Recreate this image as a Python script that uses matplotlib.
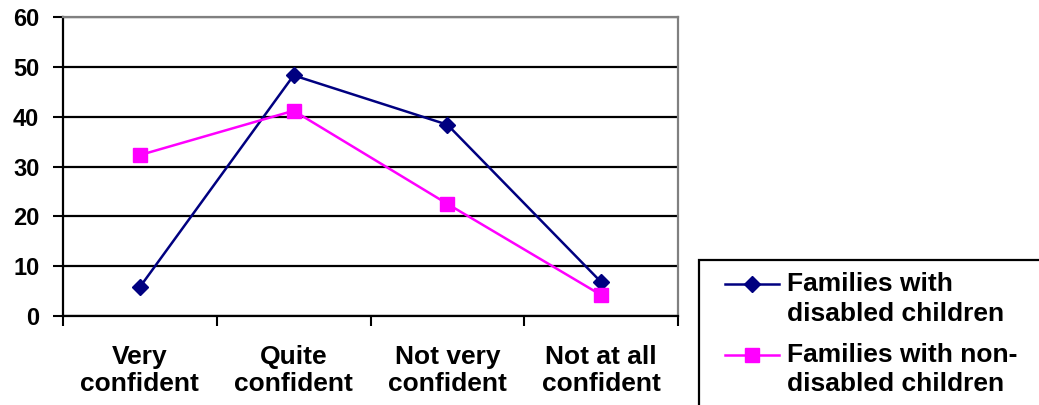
#!/usr/bin/env python3

import matplotlib
matplotlib.use('Agg')
import matplotlib.pyplot as plt
from matplotlib.patches import Rectangle

# Chart data
categories = ['Very\nconfident', 'Quite\nconfident', 'Not very\nconfident', 'Not at all\nconfident']
disabled = [5.8, 48.3, 38.4, 6.8]
non_disabled = [32.3, 41.2, 22.5, 4.2]
series_labels = ['Families with\ndisabled children', 'Families with non-\ndisabled children']
y_ticks = [0, 10, 20, 30, 40, 50, 60]


def plot_chart():
    plt.rcParams['font.family'] = ['Liberation Sans', 'DejaVu Sans']
    plt.rcParams['font.weight'] = 'bold'

    fig = plt.figure(figsize=(10.39, 4.05), dpi=100)
    ax = fig.add_axes([0.0606, 0.2198, 0.592, 0.738])

    x = range(len(categories))
    ax.plot(x, disabled, color='#000080', marker='D', markersize=8, linewidth=1.8,
            label=series_labels[0], clip_on=False, zorder=3)
    ax.plot(x, non_disabled, color='#FF00FF', marker='s', markersize=10, linewidth=1.8,
            label=series_labels[1], clip_on=False, zorder=3)

    ax.set_xlim(-0.5, len(categories) - 0.5)
    ax.set_ylim(0, 60)

    # Horizontal gridlines
    ax.set_yticks(y_ticks)
    ax.yaxis.grid(True, color='black', linewidth=1.6)
    ax.set_axisbelow(True)
    ax.tick_params(axis='y', length=7, width=1.5, labelsize=17, pad=10)

    # Category labels centred, ticks on boundaries
    ax.set_xticks(list(x))
    ax.set_xticklabels(categories, fontsize=19, linespacing=1.15)
    ax.tick_params(axis='x', which='major', length=0, pad=21)
    ax.set_xticks([i - 0.5 for i in range(len(categories) + 1)], minor=True)
    ax.tick_params(axis='x', which='minor', length=7, width=1.5)

    for side in ['top', 'right']:
        ax.spines[side].set_color('#808080')
        ax.spines[side].set_linewidth(1.6)
    for side in ['left', 'bottom']:
        ax.spines[side].set_color('black')
        ax.spines[side].set_linewidth(1.6)

    # Legend box runs off the right and bottom edges of the picture
    left, top = 699 / 1039, (405 - 260) / 405
    fig.patches.append(Rectangle((left, -0.2), 0.5, top + 0.2, transform=fig.transFigure,
                                 facecolor='white', edgecolor='black', linewidth=1.6))

    leg = fig.legend(loc='upper left', bbox_to_anchor=(left, top),
                     fontsize=19, frameon=False,
                     handlelength=2.6, borderpad=0.45, labelspacing=0.65,
                     handletextpad=0.3, borderaxespad=0)
    for t in leg.get_texts():
        t.set_linespacing(1.3)
    # handles sit level with the first line of each label, a bit right of the frame
    for h in leg.legend_handles:
        xd = list(h.get_xdata())
        yd = list(h.get_ydata())
        x0 = xd[0] + 10
        h.set_xdata([x0, (x0 + xd[-1]) / 2, xd[-1]])
        h.set_ydata([v + 10.8 for v in yd])

    plt.savefig('out.png', dpi=100)


def main():
    plot_chart()


if __name__ == '__main__':
    main()
